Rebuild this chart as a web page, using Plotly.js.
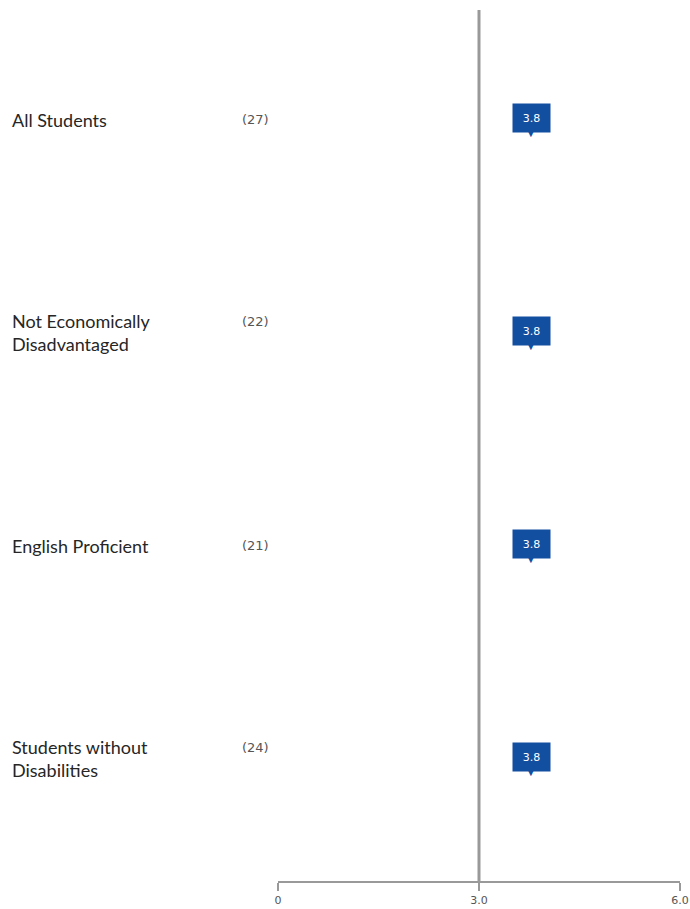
<!DOCTYPE html>
<html>
<head>
<meta charset="utf-8">
<script src="https://cdn.plot.ly/plotly-3.0.1.min.js"></script>
<style>html,body{margin:0;padding:0;background:#fff;}#chart{width:690px;height:909px;}</style>
</head>
<body>
<div id="chart"></div>
<script>
const groups = ["All Students", "Not Economically<br>Disadvantaged", "English Proficient", "Students without<br>Disabilities"];
const counts = ["(27)", "(22)", "(21)", "(24)"];
const values = [3.8, 3.8, 3.8, 3.8];
const tickVals = [0, 3, 6];
const tickText = ["0", "3.0", "6.0"];
const refValue = 3.0;

const idx = groups.map((g, i) => i);
const blue = '#134fa0';
const annotations = [];
groups.forEach((g, i) => {
  const twoLine = g.indexOf('<br>') >= 0;
  annotations.push({xref: 'paper', yref: 'y', x: -0.6667, y: i, xanchor: 'left', yanchor: 'middle',
    text: g, showarrow: false, align: 'left',
    font: {family: 'Lato, sans-serif', size: 18, color: '#262626'}});
  annotations.push({xref: 'paper', yref: 'y', x: -0.055, y: i, xanchor: 'center', yanchor: 'middle',
    text: counts[i], showarrow: false, yshift: twoLine ? 11 : 0,
    font: {family: 'DejaVu Sans, sans-serif', size: 13, color: '#555'}});
  annotations.push({xref: 'x', yref: 'y', x: values[i], y: i, xanchor: 'center', yanchor: 'middle',
    text: values[i].toFixed(1), showarrow: false, xshift: -1, yshift: 2,
    bgcolor: blue, borderpad: 0, width: 37, height: 28,
    font: {family: 'DejaVu Sans, sans-serif', size: 11, color: '#fff'}});
  annotations.push({xref: 'x', yref: 'y', x: values[i], y: i, xanchor: 'center', yanchor: 'middle',
    text: '▼', showarrow: false, xshift: -2, yshift: -13,
    font: {family: 'DejaVu Sans, sans-serif', size: 10, color: blue}});
});

const layout = {
  width: 690, height: 909,
  margin: {l: 278, r: 10, t: 10, b: 28},
  paper_bgcolor: '#fff', plot_bgcolor: '#fff',
  showlegend: false,
  xaxis: {range: [0, 6], tickvals: tickVals, ticktext: tickText, showgrid: false, zeroline: false,
    showline: true, linecolor: '#999', linewidth: 2, ticks: 'outside', ticklen: 8, tickcolor: '#999', tickwidth: 2,
    tickfont: {family: 'DejaVu Sans, sans-serif', size: 11, color: '#555'}, fixedrange: true},
  yaxis: {range: [3.573, -0.516], showticklabels: false, showgrid: false, zeroline: false, showline: false, ticks: ''},
  shapes: [{type: 'line', xref: 'x', yref: 'paper', x0: refValue, x1: refValue, y0: 0, y1: 1,
    line: {color: '#999', width: 3}}],
  annotations: annotations
};

Plotly.newPlot('chart', [{x: values, y: idx, type: 'scatter', mode: 'markers', marker: {opacity: 0}, hoverinfo: 'skip'}], layout, {displayModeBar: false, staticPlot: true});
</script>
</body>
</html>
